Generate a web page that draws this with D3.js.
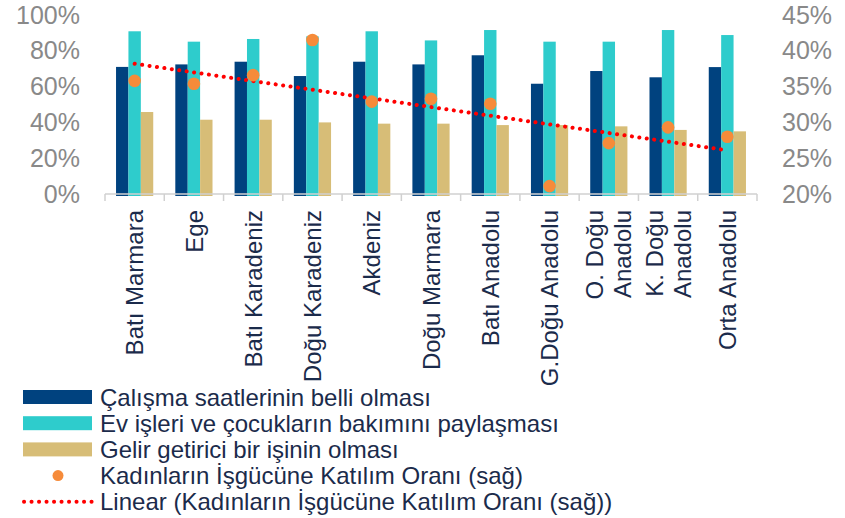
<!DOCTYPE html>
<html>
<head>
<meta charset="utf-8">
<script src="https://cdn.jsdelivr.net/npm/d3@7"></script>
<style>
    body { margin: 0; background: #fff; }
    svg { display: block; font-family: "Liberation Sans", Arial, sans-serif; }
</style>
</head>
<body>
<svg id="chart" width="845" height="518"></svg>
<script>

// Regions (a "\n" breaks the label onto two lines)
const regions = ['Batı Marmara', 'Ege', 'Batı Karadeniz', 'Doğu Karadeniz', 'Akdeniz',
    'Doğu Marmara', 'Batı Anadolu', 'G.Doğu Anadolu', 'O. Doğu\nAnadolu', 'K. Doğu\nAnadolu', 'Orta Anadolu'];

// Left axis series (share of women)
const calismaSaatleri = [0.71, 0.724, 0.739, 0.659, 0.739, 0.724, 0.775, 0.616, 0.687, 0.652, 0.709];
const evIsleri = [0.909, 0.851, 0.866, 0.881, 0.909, 0.858, 0.916, 0.851, 0.851, 0.916, 0.888];
const gelirGetirici = [0.458, 0.415, 0.415, 0.40, 0.393, 0.393, 0.385, 0.385, 0.378, 0.358, 0.35];

// Right axis series (labour force participation)
const katilimOrani = [0.358, 0.354, 0.366, 0.415, 0.329, 0.333, 0.326, 0.211, 0.271, 0.293, 0.28];

const leftTicks = [0, 0.2, 0.4, 0.6, 0.8, 1.0];
const rightTicks = [0.20, 0.25, 0.30, 0.35, 0.40, 0.45];

const legendLabels = [
    'Çalışma saatlerinin belli olması',
    'Ev işleri ve çocukların bakımını paylaşması',
    'Gelir getirici bir işinin olması',
    'Kadınların İşgücüne Katılım Oranı (sağ)',
    'Linear (Kadınların İşgücüne Katılım Oranı (sağ))'
];

const barColors = ['#00427f', '#2ecccc', '#d7bd77'];
const dotColor = '#f68b3a';
const trendColor = '#ff0000';
const tickColor = '#898989';
const textColor = '#1b2b4b';

const svg = d3.select('#chart');

// Plot area
const plotLeft = 105, plotRight = 757, plotTop = 15, plotBottom = 194;

const x = d3.scaleBand()
    .domain(regions)
    .range([plotLeft, plotRight]);

const yLeft = d3.scaleLinear().domain([0, 1]).range([plotBottom, plotTop]);
const yRight = d3.scaleLinear().domain([0.20, 0.45]).range([plotBottom, plotTop]);

const barWidth = 12.4;
const series = [calismaSaatleri, evIsleri, gelirGetirici];

// Bars, three per region, centred on the band
series.forEach((values, s) => {
    svg.append('g')
        .selectAll('rect')
        .data(values)
        .join('rect')
        .attr('x', (d, i) => x(regions[i]) + x.bandwidth() / 2 + (s - 1.5) * barWidth)
        .attr('y', d => yLeft(d))
        .attr('width', barWidth)
        .attr('height', d => yLeft(0) - yLeft(d) + 2)
        .attr('fill', barColors[s]);
});

// Category axis: line with ticks between bands
const bottomAxis = svg.append('g');
bottomAxis.append('line')
    .attr('x1', plotLeft).attr('x2', plotRight)
    .attr('y1', plotBottom).attr('y2', plotBottom)
    .attr('stroke', '#d0d0d0').attr('stroke-width', 1.5);

const bounds = regions.map(r => x(r)).concat([x.range()[1]]);
bottomAxis.selectAll('line.tick')
    .data(bounds)
    .join('line')
    .attr('class', 'tick')
    .attr('x1', d => d).attr('x2', d => d)
    .attr('y1', plotBottom).attr('y2', plotBottom + 7)
    .attr('stroke', '#d0d0d0').attr('stroke-width', 1.5);

// Rotated region labels
const labelTop = 210;
const labelGroups = svg.append('g')
    .selectAll('text')
    .data(regions)
    .join('text')
    .attr('transform', d => `translate(${x(d) + x.bandwidth() / 2},${labelTop}) rotate(-90)`)
    .attr('text-anchor', 'end')
    .attr('font-size', 24)
    .attr('fill', textColor);

labelGroups.each(function (d) {
    const lines = d.split('\n');
    const lineGap = 28;
    d3.select(this).selectAll('tspan')
        .data(lines)
        .join('tspan')
        .attr('x', 0)
        .attr('y', (l, i) => (i - (lines.length - 1) / 2) * lineGap)
        .attr('dy', '0.36em')
        .text(l => l);
});

// Left and right value axes
const leftAxis = svg.append('g')
    .attr('transform', `translate(${plotLeft},0)`)
    .call(d3.axisLeft(yLeft)
        .tickValues(leftTicks)
        .tickFormat(d3.format('.0%'))
        .tickSize(0)
        .tickPadding(25));

const rightAxis = svg.append('g')
    .attr('transform', `translate(${plotRight},0)`)
    .call(d3.axisRight(yRight)
        .tickValues(rightTicks)
        .tickFormat(d3.format('.0%'))
        .tickSize(0)
        .tickPadding(25));

[leftAxis, rightAxis].forEach(axis => {
    axis.select('.domain').remove();
    axis.selectAll('text')
        .attr('font-size', 25)
        .attr('font-family', '"Liberation Sans", Arial, sans-serif')
        .attr('fill', tickColor);
});

// Linear trend line of the participation rate (least squares over region index)
const idx = katilimOrani.map((d, i) => i);
const meanX = d3.mean(idx);
const meanY = d3.mean(katilimOrani);
const slope = d3.sum(idx, i => (i - meanX) * (katilimOrani[i] - meanY)) / d3.sum(idx, i => (i - meanX) ** 2);
const trend = idx.map(i => meanY + slope * (i - meanX));

const trendLine = d3.line()
    .x((d, i) => x(regions[i]) + x.bandwidth() / 2)
    .y(d => yRight(d));

svg.append('path')
    .datum(trend)
    .attr('d', trendLine)
    .attr('fill', 'none')
    .attr('stroke', trendColor)
    .attr('stroke-width', 4)
    .attr('stroke-linecap', 'round')
    .attr('stroke-dasharray', '0.1 7.4');

// Participation rate dots
svg.append('g')
    .selectAll('circle')
    .data(katilimOrani)
    .join('circle')
    .attr('cx', (d, i) => x(regions[i]) + x.bandwidth() / 2)
    .attr('cy', d => yRight(d))
    .attr('r', 6.3)
    .attr('fill', dotColor);

// Legend
const legendTop = 397, legendStep = 26.2;
const legend = svg.append('g')
    .selectAll('g')
    .data(legendLabels)
    .join('g')
    .attr('transform', (d, i) => `translate(0,${legendTop + i * legendStep})`);

legend.filter((d, i) => i < 3)
    .append('rect')
    .attr('x', 23).attr('y', -7)
    .attr('width', 69).attr('height', 14)
    .attr('fill', (d, i) => barColors[i]);

legend.filter((d, i) => i === 3)
    .append('circle')
    .attr('cx', 58).attr('cy', 0).attr('r', 5.5)
    .attr('fill', dotColor);

legend.filter((d, i) => i === 4)
    .append('line')
    .attr('x1', 24).attr('x2', 92)
    .attr('y1', 0).attr('y2', 0)
    .attr('stroke', trendColor)
    .attr('stroke-width', 4)
    .attr('stroke-linecap', 'round')
    .attr('stroke-dasharray', '0.1 7.4');

legend.append('text')
    .attr('x', 100)
    .attr('dy', '0.36em')
    .attr('font-size', 24)
    .attr('fill', textColor)
    .text(d => d);

</script>
</body>
</html>
